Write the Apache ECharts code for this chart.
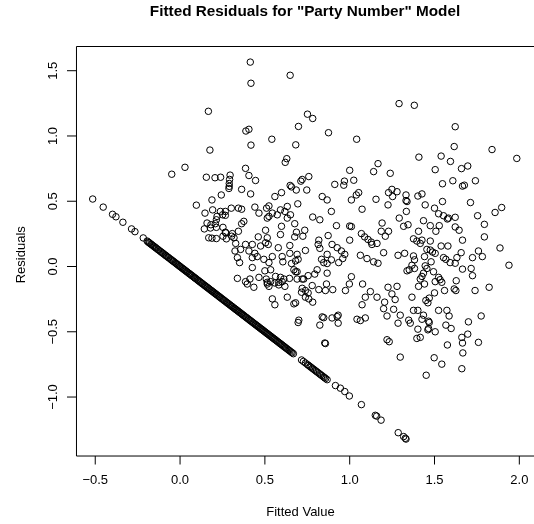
<!DOCTYPE html>
<html lang="en">
<head>
    <meta charset="utf-8" />
    <title>Fitted Residuals</title>
    <script src="https://cdn.jsdelivr.net/npm/echarts@6.0.0/dist/echarts.min.js"></script>
    <style>
        body { margin: 0; background: #fff; }
        #main { width: 534px; height: 524px; }
    </style>
</head>
<body>
<div id="main"></div>
<script>
    // axis extents (they include the tick zone) and the plot box
    var xRange = [-0.6665, 2.0865];
    var yRange = [-1.5168, 1.697];
    var xBox = -0.6106;
    var yBox = [-1.4519, 1.6855];
    var xTicks = [-0.5, 0.0, 0.5, 1.0, 1.5, 2.0];
    var yTicks = [-1.0, -0.5, 0.0, 0.5, 1.0, 1.5];

    // [fitted, residual] for the scattered cloud
    var cloudPoints = [
        [0.167,1.189],[0.176,0.892],[0.029,0.760],[-0.049,0.707],[0.155,0.684],[0.206,0.680],[0.239,0.684],
        [0.295,0.700],[0.292,0.667],[0.290,0.636],[0.290,0.614],[0.288,0.598],
        [0.414,1.566],[0.418,1.404],[0.649,1.465],[0.751,1.167],[0.782,1.134],[0.698,1.073],[0.388,1.038],
        [0.406,1.051],[0.875,1.025],[0.541,0.975],[1.041,0.975],[0.418,0.930],[0.682,0.932],[0.629,0.826],
        [0.620,0.798],[0.386,0.752],[0.406,0.697],[0.445,0.659],[1.000,0.737],[1.141,0.727],[1.167,0.788],
        [0.759,0.689],[0.720,0.667],[0.712,0.654],[0.912,0.629],[0.969,0.654],[0.965,0.623],[1.024,0.661],
        [0.649,0.621],[0.657,0.610],
        [1.291,1.248],[1.381,1.235],[1.622,1.071],[1.616,0.919],[1.839,0.896],[1.985,0.828],[1.408,0.838],
        [1.539,0.846],[1.594,0.805],[1.239,0.714],[1.504,0.742],[1.659,0.750],[1.696,0.770],[1.547,0.634],
        [1.608,0.657],[1.665,0.616],[1.676,0.623],[1.741,0.657],
        [0.096,0.470],[0.188,0.510],[0.243,0.548],[0.147,0.409],[0.192,0.434],[0.238,0.422],[0.267,0.422],
        [0.251,0.396],[0.218,0.384],[0.214,0.358],[0.267,0.392],[0.159,0.333],[0.182,0.320],[0.208,0.328],
        [0.143,0.288],[0.179,0.295],[0.214,0.300],[0.253,0.300],[0.267,0.263],[0.169,0.220],[0.188,0.217],
        [0.214,0.214],[0.253,0.232],[0.273,0.212],
        [0.363,0.591],[0.416,0.556],[0.559,0.536],[0.598,0.566],[0.685,0.586],[0.747,0.586],
        [1.053,0.566],[1.039,0.548],[1.010,0.510],[0.838,0.536],[0.867,0.510],[1.155,0.515],[0.694,0.480],
        [0.302,0.447],[0.344,0.447],[0.363,0.439],[0.441,0.455],[0.465,0.409],[0.510,0.447],[0.524,0.464],
        [0.632,0.460],[0.618,0.422],[0.592,0.434],[0.544,0.409],[0.573,0.396],[0.651,0.396],[0.514,0.371],
        [0.524,0.384],[0.632,0.371],[0.782,0.379],[0.824,0.358],[0.892,0.422],[1.073,0.439],[0.376,0.346],
        [0.363,0.328],[0.676,0.328],[0.598,0.308],[0.922,0.313],[1.000,0.310],[1.010,0.306],[0.504,0.278],
        [0.344,0.270],[0.269,0.258],[0.308,0.252],[0.304,0.232],[0.318,0.220],[0.686,0.263],[0.735,0.278],
        [0.592,0.245],[0.461,0.227],[0.514,0.220],[0.676,0.227],[0.724,0.232],[0.873,0.237],[1.000,0.202],
        [1.069,0.252],[1.088,0.227],[1.108,0.207],[1.127,0.187],[1.131,0.169],[0.818,0.202],[0.814,0.169],
        [0.896,0.169],[0.504,0.182],[0.520,0.169],[0.386,0.169],[0.426,0.169],[0.475,0.157],[0.328,0.177],
        [0.357,0.131],[0.324,0.119],[0.579,0.144],[0.647,0.161],[0.647,0.101],[0.739,0.123],[0.690,0.093],
        [0.824,0.139],[0.867,0.093],[0.926,0.144],[0.951,0.119],[0.971,0.093],[0.441,0.101],[0.455,0.076],
        [0.426,0.068],[0.406,0.119],[1.063,0.086],[1.102,0.061],[1.141,0.036],[0.338,0.068],[0.351,0.030],
        [0.494,0.055],[0.524,0.030],[0.544,0.076],[0.602,0.076],[0.606,0.036],[0.657,0.023],[0.681,0.043],
        [0.696,0.055],[0.834,0.055],[0.847,0.030],[0.867,0.023],[0.892,0.051],[0.935,0.030],[0.959,0.061],
        [0.426,-0.008],[0.500,-0.033],[0.534,-0.025],[0.671,-0.025],[0.681,-0.040],[0.690,-0.040],
        [0.808,-0.025],[0.794,-0.058],[0.867,-0.051],[0.755,-0.070],[0.729,-0.096],[0.338,-0.091],
        [0.386,-0.116],[0.412,-0.096],[0.465,-0.083],[0.508,-0.096],[0.514,-0.121],[0.534,-0.116],
        [0.563,-0.076],[0.592,-0.083],[0.602,-0.116],[0.582,-0.121],[0.612,-0.096],[0.645,-0.091],
        [0.690,-0.096],[0.720,-0.096],[0.863,-0.134],[0.818,-0.177],[0.857,-0.184],[0.900,-0.177],
        [1.010,-0.078],[0.998,-0.134],[0.975,-0.184],[1.076,-0.134],[1.122,-0.192],[0.514,-0.134],
        [0.524,-0.152],[0.559,-0.126],[0.582,-0.141],[0.618,-0.152],[0.435,-0.159],[0.396,-0.134],
        [0.720,-0.167],[0.739,-0.184],[0.716,-0.197],[0.755,-0.202],[0.779,-0.146],[0.632,-0.235],
        [0.544,-0.248],[0.559,-0.293],[0.671,-0.286],[0.681,-0.278],[0.739,-0.235],[0.759,-0.248],
        [0.782,-0.273],[1.092,-0.235],[1.073,-0.293],[0.838,-0.386],[0.932,-0.373],[0.896,-0.394],
        [1.043,-0.404],[1.092,-0.394],[0.700,-0.411],
        [1.249,0.591],[1.229,0.566],[1.279,0.573],[1.253,0.536],[1.332,0.548],[1.338,0.498],[1.332,0.505],
        [1.402,0.540],[1.426,0.556],[1.226,0.472],[1.445,0.472],[1.547,0.498],[1.712,0.490],[1.896,0.452],
        [1.857,0.414],[1.754,0.389],[1.334,0.422],[1.500,0.447],[1.524,0.404],[1.553,0.389],[1.582,0.371],
        [1.576,0.364],[1.622,0.377],[1.292,0.371],[1.435,0.351],[1.191,0.333],[1.318,0.308],[1.344,0.320],
        [1.475,0.313],[1.528,0.313],[1.794,0.323],[1.622,0.303],[1.645,0.278],[1.508,0.270],[1.406,0.270],
        [1.186,0.270],[1.229,0.270],[1.210,0.232],[1.794,0.227],[1.376,0.212],[1.396,0.195],[1.426,0.202],
        [1.416,0.177],[1.475,0.195],[1.665,0.202],[1.161,0.177],[1.539,0.157],[1.579,0.157],[1.886,0.142],
        [1.455,0.131],[1.475,0.126],[1.488,0.111],[1.504,0.101],[1.759,0.119],[1.782,0.076],[1.724,0.068],
        [1.657,0.106],[1.200,0.106],[1.285,0.086],[1.324,0.101],[1.376,0.081],[1.382,0.051],[1.367,0.010],
        [1.441,0.076],[1.553,0.068],[1.567,0.055],[1.592,0.030],[1.622,0.025],[1.632,0.068],[1.480,0.036],
        [1.167,0.025],[1.939,0.010],[1.445,0.005],[1.455,-0.015],[1.338,-0.033],[1.351,-0.025],[1.382,-0.015],
        [1.665,-0.020],[1.716,-0.015],[1.724,-0.070],[1.494,-0.040],[1.435,-0.051],[1.426,-0.076],
        [1.416,-0.096],[1.524,-0.083],[1.543,-0.121],[1.504,-0.116],[1.533,-0.101],[1.441,-0.134],
        [1.406,-0.152],[1.628,-0.109],[1.559,-0.184],[1.616,-0.172],[1.626,-0.184],[1.739,-0.184],
        [1.822,-0.159],[1.226,-0.159],[1.279,-0.152],[1.249,-0.210],[1.268,-0.253],[1.161,-0.235],
        [1.367,-0.235],[1.500,-0.202],[1.469,-0.242],[1.449,-0.260],[1.461,-0.278],[1.206,-0.273],
        [1.200,-0.323],[1.259,-0.328],[1.376,-0.336],[1.402,-0.336],[1.524,-0.336],[1.573,-0.336],
        [1.435,-0.373],[1.426,-0.404],[1.465,-0.419],[1.586,-0.379],[1.775,-0.379],[1.220,-0.379],
        [1.298,-0.373],[1.348,-0.411],[1.700,-0.424],
        [0.696,-0.429],[0.824,-0.449],[0.847,-0.392],[0.932,-0.434],[0.926,-0.384],[1.063,-0.414],
        [0.853,-0.586],[0.857,-0.590],
        [1.285,-0.434],[1.357,-0.434],[1.402,-0.480],[1.469,-0.429],[1.461,-0.485],[1.465,-0.475],
        [1.504,-0.500],[1.567,-0.449],[1.598,-0.475],[1.220,-0.561],[1.233,-0.576],[1.396,-0.551],
        [1.416,-0.543],[1.661,-0.543],[1.696,-0.518],[1.665,-0.586],[1.576,-0.601],[1.759,-0.581],
        [1.298,-0.694],[1.498,-0.699],[1.543,-0.748],[1.667,-0.662],[1.661,-0.783],[1.451,-0.833]
    ];

    // [fitted, residual] for the cases with zero parties (the straight band)
    var zeroPoints = [
        [-0.515,0.517],[-0.453,0.455],[-0.398,0.400],[-0.378,0.381],[-0.337,0.339],[-0.286,0.288],
        [-0.266,0.267],[-0.217,0.219],
        [-0.194,0.195],[-0.188,0.188],[-0.183,0.183],[-0.179,0.179],[-0.172,0.172],[-0.168,0.168],
        [-0.161,0.161],[-0.155,0.155],[-0.149,0.149],[-0.144,0.144],[-0.139,0.139],[-0.131,0.131],
        [-0.126,0.126],[-0.118,0.118],[-0.112,0.112],[-0.106,0.106],[-0.101,0.101],[-0.095,0.095],
        [-0.088,0.088],[-0.083,0.083],[-0.078,0.078],[-0.071,0.071],[-0.066,0.066],[-0.058,0.058],
        [-0.052,0.052],[-0.047,0.047],[-0.041,0.041],[-0.036,0.036],[-0.029,0.029],[-0.023,0.023],
        [-0.018,0.018],[-0.012,0.012],[-0.006,0.006],[-0.001,0.001],[0.004,-0.004],[0.011,-0.011],
        [0.016,-0.016],[0.022,-0.022],[0.027,-0.027],[0.033,-0.033],[0.038,-0.038],[0.044,-0.044],
        [0.051,-0.051],[0.056,-0.056],[0.061,-0.061],[0.067,-0.067],[0.072,-0.072],[0.079,-0.079],
        [0.085,-0.085],[0.089,-0.089],[0.094,-0.094],[0.101,-0.101],[0.106,-0.106],[0.112,-0.112],
        [0.118,-0.118],[0.123,-0.123],[0.129,-0.129],[0.134,-0.134],[0.141,-0.141],[0.147,-0.147],
        [0.152,-0.152],[0.158,-0.158],[0.163,-0.163],[0.169,-0.169],[0.174,-0.174],[0.181,-0.181],
        [0.186,-0.186],[0.192,-0.192],[0.197,-0.197],[0.203,-0.203],[0.208,-0.208],[0.214,-0.214],
        [0.219,-0.219],[0.226,-0.226],[0.231,-0.231],[0.236,-0.236],[0.242,-0.242],[0.248,-0.248],
        [0.253,-0.253],[0.259,-0.259],[0.264,-0.264],[0.271,-0.271],[0.276,-0.276],[0.281,-0.281],
        [0.287,-0.287],[0.293,-0.293],[0.298,-0.298],[0.304,-0.304],[0.309,-0.309],[0.316,-0.316],
        [0.321,-0.321],[0.327,-0.327],[0.332,-0.332],[0.338,-0.338],[0.343,-0.343],[0.349,-0.349],
        [0.355,-0.355],[0.361,-0.361],[0.366,-0.366],[0.372,-0.372],[0.377,-0.377],[0.383,-0.383],
        [0.389,-0.389],[0.394,-0.394],[0.401,-0.401],[0.406,-0.406],[0.412,-0.412],[0.417,-0.417],
        [0.423,-0.423],[0.429,-0.429],[0.434,-0.434],[0.441,-0.441],[0.446,-0.446],[0.452,-0.452],
        [0.458,-0.458],[0.463,-0.463],[0.469,-0.469],[0.475,-0.475],[0.481,-0.481],[0.486,-0.486],
        [0.492,-0.492],[0.498,-0.498],[0.504,-0.504],[0.510,-0.510],[0.515,-0.515],[0.521,-0.521],
        [0.527,-0.527],[0.533,-0.533],[0.539,-0.539],[0.545,-0.545],[0.551,-0.551],[0.556,-0.556],
        [0.562,-0.562],[0.568,-0.568],[0.574,-0.574],[0.581,-0.581],[0.587,-0.587],[0.593,-0.593],
        [0.598,-0.598],[0.604,-0.604],[0.611,-0.611],[0.617,-0.617],[0.623,-0.623],[0.629,-0.629],
        [0.636,-0.636],[0.642,-0.642],[0.648,-0.648],[0.655,-0.655],[0.661,-0.661],[0.668,-0.668],
        [0.716,-0.716],[0.727,-0.727],[0.739,-0.739],[0.751,-0.751],[0.758,-0.758],[0.766,-0.766],
        [0.772,-0.772],[0.781,-0.781],[0.789,-0.789],[0.797,-0.797],[0.804,-0.804],[0.812,-0.812],
        [0.821,-0.821],[0.829,-0.829],[0.836,-0.836],[0.845,-0.845],[0.851,-0.851],[0.858,-0.858],
        [0.867,-0.867],[0.916,-0.912],[0.945,-0.932],[0.971,-0.958],[0.998,-0.992],[1.069,-1.058],
        [1.151,-1.140],[1.159,-1.146],[1.185,-1.177],[1.286,-1.273],[1.318,-1.303],[1.328,-1.316],
        [1.332,-1.322]
    ];

    var font = 'Liberation Sans, Arial, Helvetica, sans-serif';

    function tickText(v) {
        return v.toFixed(1).replace('-', '\u2212');
    }

    var circleStyle = { color: 'rgba(0,0,0,0)', borderColor: '#000', borderWidth: 1, opacity: 1 };
    var inkLine = { color: '#000', width: 1 };

    function segment(name, data) {
        return {
            name: name,
            type: 'line',
            data: data,
            symbol: 'none',
            silent: true,
            lineStyle: inkLine
        };
    }

    var series = [
        {
            name: 'cloud',
            type: 'scatter',
            data: cloudPoints,
            symbol: 'circle',
            symbolSize: 6.5,
            silent: true,
            itemStyle: circleStyle
        },
        {
            name: 'zero',
            type: 'scatter',
            data: zeroPoints,
            symbol: 'circle',
            symbolSize: 6.5,
            silent: true,
            itemStyle: circleStyle
        },
        // plot box: top, left and bottom edges (the right edge falls off the picture)
        segment('box', [[xRange[1], yBox[1]], [xBox, yBox[1]], [xBox, yBox[0]], [xRange[1], yBox[0]]])
    ];

    // outward tick marks, from the box edge to the end of the axis range
    xTicks.forEach(function (v) {
        series.push(segment('xtick', [[v, yBox[0]], [v, yRange[0]]]));
    });
    yTicks.forEach(function (v) {
        series.push(segment('ytick', [[xBox, v], [xRange[0], v]]));
    });

    var myChart = echarts.init(document.getElementById('main'), null, { renderer: 'canvas' });

    var option = {
        animation: false,
        backgroundColor: '#fff',
        title: {
            text: 'Fitted Residuals for "Party Number" Model',
            left: 305,
            top: 4,
            padding: 0,
            textAlign: 'center',
            textStyle: { fontFamily: font, fontSize: 15.3, fontWeight: 'bold', color: '#000' }
        },
        grid: {
            left: 67,
            right: -1,
            top: 45,
            bottom: 58,
            show: false
        },
        xAxis: {
            type: 'value',
            min: xRange[0],
            max: xRange[1],
            name: 'Fitted Value',
            nameLocation: 'middle',
            nameGap: 41.5,
            nameTextStyle: { fontFamily: font, fontSize: 13, color: '#000' },
            axisLine: { show: false, onZero: false },
            splitLine: { show: false },
            axisTick: { show: false },
            axisLabel: {
                customValues: xTicks,
                margin: 9.5,
                fontFamily: font, fontSize: 13, color: '#000',
                formatter: tickText
            }
        },
        yAxis: {
            type: 'value',
            min: yRange[0],
            max: yRange[1],
            name: 'Residuals',
            nameLocation: 'middle',
            nameGap: 39,
            nameTextStyle: { fontFamily: font, fontSize: 13, color: '#000' },
            axisLine: { show: false, onZero: false },
            splitLine: { show: false },
            axisTick: { show: false },
            axisLabel: {
                customValues: yTicks,
                rotate: 90,
                margin: 7,
                fontFamily: font, fontSize: 13, color: '#000',
                formatter: tickText
            }
        },
        series: series
    };

    myChart.setOption(option);
</script>
</body>
</html>
